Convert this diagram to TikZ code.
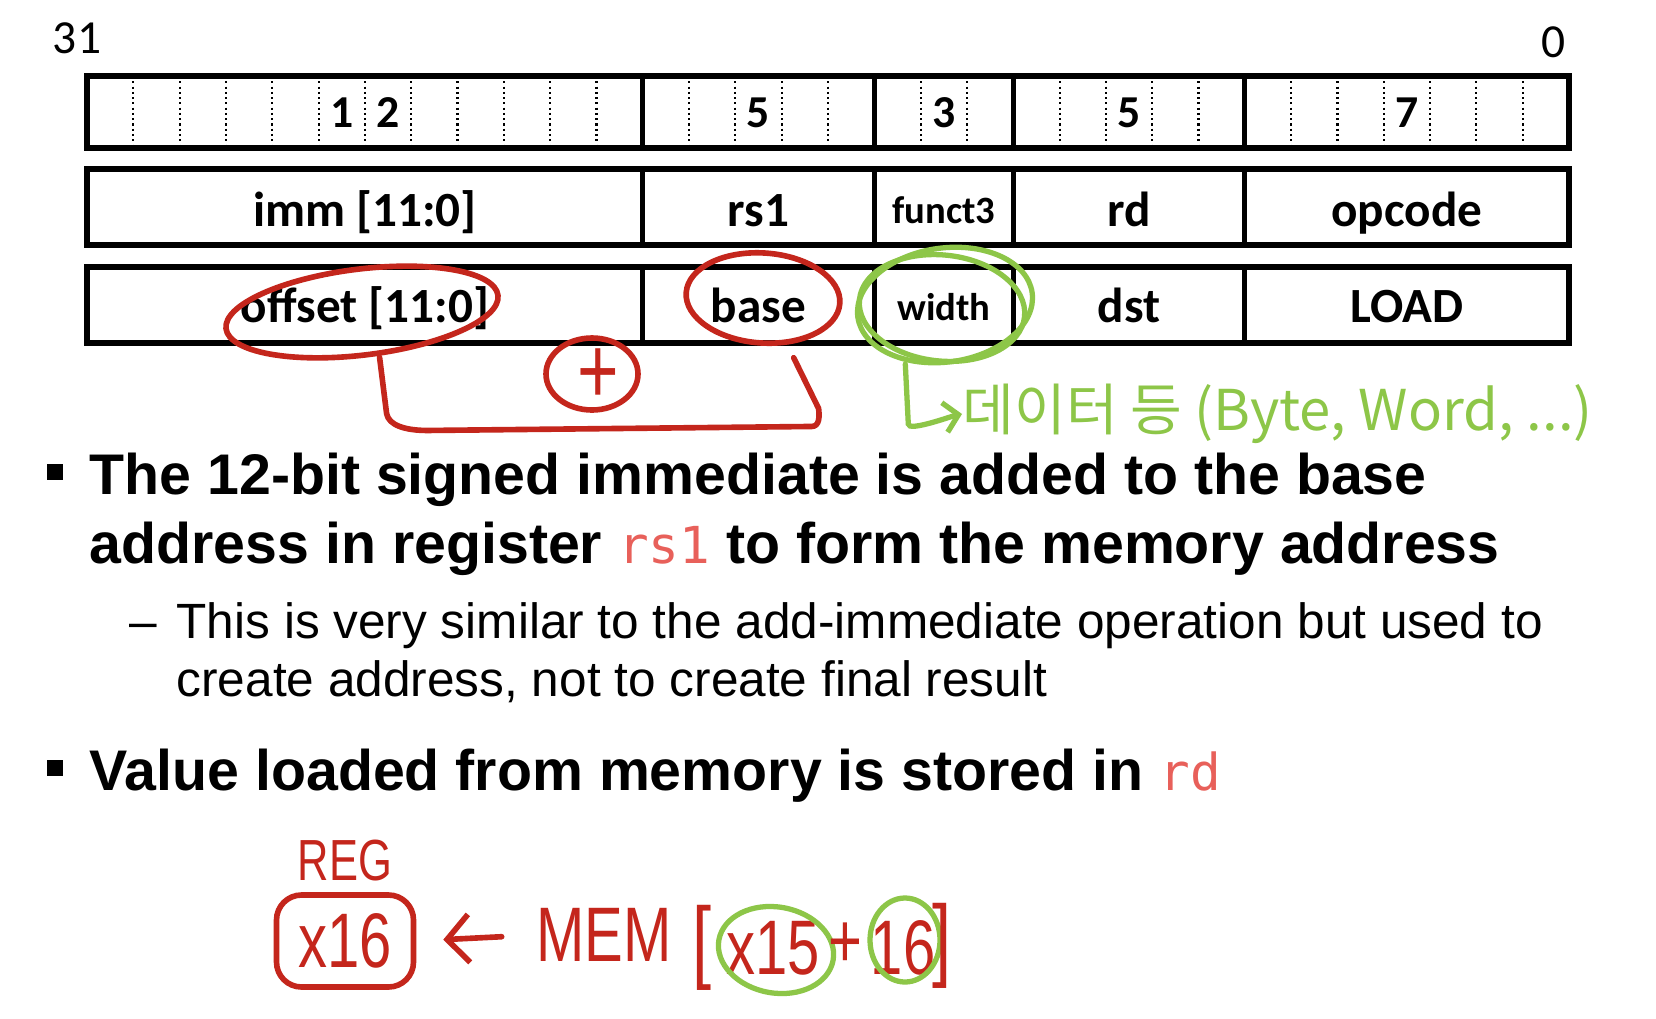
\documentclass[tikz,border=0pt]{standalone}
\usepackage{fontspec}
\setmainfont{Liberation Sans}
\newfontfamily\fieldfont{Carlito}
\newfontfamily\codefont{DejaVu Sans Mono}
\newfontfamily\handfont[FakeStretch=0.75]{Liberation Sans}
\newfontfamily\notefont{Noto Sans CJK KR}
\usetikzlibrary{arrows.meta, shapes.geometric, calc}
\definecolor{codered}{RGB}{232, 96, 90}
\definecolor{inkred}{RGB}{196, 38, 28}
\definecolor{inkgreen}{RGB}{141, 198, 72}
\newcommand{\fsz}[1]{\fontsize{#1}{#1}\selectfont}

\begin{document}
\begin{tikzpicture}[x=0.1mm, y=-0.1mm,
    frame/.style={line width=1.5pt},
    bitsep/.style={line width=0.6pt, dash pattern=on 0.6pt off 0.9pt},
    fieldtxt/.style={anchor=base, inner sep=0pt, font=\fieldfont\bfseries\fsz{14pt}},
    txt/.style={anchor=base west, inner sep=0pt},
    bullet/.style={fill=black, minimum size=1.6mm, inner sep=0pt},
    ink/.style={draw=inkred, line width=1.6pt, line cap=round, line join=round},
    greenink/.style={draw=inkgreen, line width=1.5pt, line cap=round},
    ring/.style={ellipse, inner sep=0pt},
    handtxt/.style={text=inkred, inner sep=0pt, font=\handfont\fsz{22pt}}]

    \fill[white] (0,0) rectangle (1656,1018);
    \useasboundingbox (0,0) rectangle (1656,1018);

    % 位号
    \node[fieldtxt, font=\fieldfont\fsz{13.5pt}] (msb) at (77,53) {31};
    \node[fieldtxt, font=\fieldfont\fsz{13.5pt}] (lsb) at (1553,58) {0};

    % 位宽行
    \foreach \k in {1,...,31}
        \draw[bitsep] (87+46.3125*\k,76) -- (87+46.3125*\k,148);
    \foreach \t/\b in {76/148, 169/245, 267/343} {
        \draw[frame] (87,\t) rectangle (1569,\b);
        \foreach \k in {12,17,20,25}
            \draw[frame] (87+46.3125*\k,\t) -- (87+46.3125*\k,\b);
    }
    \foreach \c/\n/\nm in {5/1/wa, 6/2/wb, 14/5/wc, 18/3/wd, 22/5/we, 28/7/wf}
        \node[fieldtxt, font=\fieldfont\bfseries\fsz{13pt}] (\nm) at ({87+46.3125*(\c+0.5)},127) {\n};

    % 字段名
    \foreach \x/\t/\nm in {364.9/{imm [11:0]}/imm, 758.5/rs1/rsone, 1129/rd/rd, 1406.9/opcode/opcode}
        \node[fieldtxt] (\nm) at (\x,226) {\t};
    \node[fieldtxt, font=\fieldfont\bfseries\fsz{11pt}] (functthree) at (943.8,223) {funct3};
    \foreach \x/\t/\nm in {364.9/{offset [11:0]}/offset, 758.5/base/base, 1129/dst/dst, 1406.9/LOAD/load}
        \node[fieldtxt] (\nm) at (\x,322) {\t};
    \node[fieldtxt, font=\fieldfont\bfseries\fsz{11pt}] (width) at (943.8,320) {width};

    % 要点
    \node[bullet] (dotA) at (55,472) {};
    \node[txt, font=\bfseries\fsz{16.3pt}] (lineA) at (89,494) {The 12-bit signed immediate is added to the base};
    \node[txt, font=\bfseries\fsz{16.3pt}] (lineB) at (89,563) {address in register {\mdseries\codefont\fsz{14.5pt}\color{codered}rs1} to form the memory address};
    \node[txt, font=\fsz{14.1pt}] (dash) at (129,638) {–};
    \node[txt, font=\fsz{14.1pt}] (subA) at (176,638) {This is very similar to the add-immediate operation but used to};
    \node[txt, font=\fsz{14.1pt}] (subB) at (176,696) {create address, not to create final result};
    \node[bullet] (dotB) at (55,768) {};
    \node[txt, font=\bfseries\fsz{16.3pt}] (lineC) at (89,790) {Value loaded from memory is stored in {\mdseries\codefont\fsz{14.5pt}\color{codered}rd}};

    % 红色批注
    \node[ring, ink, minimum width=27.4mm, minimum height=8.6mm, rotate=7] (offring) at (362,312) {};
    \node[ring, ink, minimum width=15.4mm, minimum height=9mm, rotate=-4] (basering) at (763,298) {};
    \node[ring, ink, minimum width=9.2mm, minimum height=7.2mm] (plusring) at (592,374) {};
    \node[handtxt, font=\handfont\fsz{27pt}] (plussign) at (598,376) {+};
    \draw[ink] ([xshift=1.2mm]offring.south) -- ++(7,56)
        .. controls +(2,12) and +(-22,0) .. ++(41,17) -- ++(384,-4)
        .. controls +(8,0) and +(1,8) .. ++(7,-18) -- ([xshift=3.4mm,yshift=-1.2mm]basering.south);

    % 绿色批注
    \node[ring, greenink, minimum width=17.6mm, minimum height=11.4mm, rotate=8] (widthring) at (945,305) {};
    \node[ring, greenink, minimum width=16.6mm, minimum height=10.6mm, rotate=-6] (widthringb) at (942,308) {};
    \node[anchor=west, inner sep=0pt, text=inkgreen, font=\notefont\fsz{16pt}] (sizenote) at (962,414) {데이터 등 (Byte, Word, ...)};
    \draw[greenink, -{Straight Barb[length=1.4mm, width=3mm]}] ([xshift=-4.8mm]widthring.south) -- ++(3,60)
        .. controls +(0,8) and +(-10,2) .. (sizenote.west);

    % 公式
    \node[handtxt, font=\handfont\fsz{16.5pt}] (regtag) at (345,861) {REG};
    \node[handtxt, draw=inkred, line width=1.6pt, rounded corners=2.5mm, minimum width=13.7mm, minimum height=9.2mm] (regbox) at (345,941) {x16};
    \node[handtxt] (mem) at (604,935) {MEM};
    \node[handtxt, font=\handfont\fsz{26pt}] (lbr) at (702,948) {[};
    \node[handtxt] (xfifteen) at (773,948) {x15};
    \node[ring, greenink, minimum width=11.6mm, minimum height=8.6mm, rotate=-10] (ringA) at (776,950) {};
    \node[handtxt] (plusop) at (845,945) {+};
    \node[handtxt] (sixteen) at (903,948) {16};
    \node[ring, greenink, minimum width=7mm, minimum height=8.4mm] (ringB) at (905,940) {};
    \node[handtxt, font=\handfont\fsz{26pt}] (rbr) at (942,946) {]};
    \draw[ink, -{Straight Barb[length=2.2mm, width=4.8mm]}, shorten <=3.4mm, shorten >=2.7mm] (mem.west) -- (regbox.east);
\end{tikzpicture}
\end{document}
